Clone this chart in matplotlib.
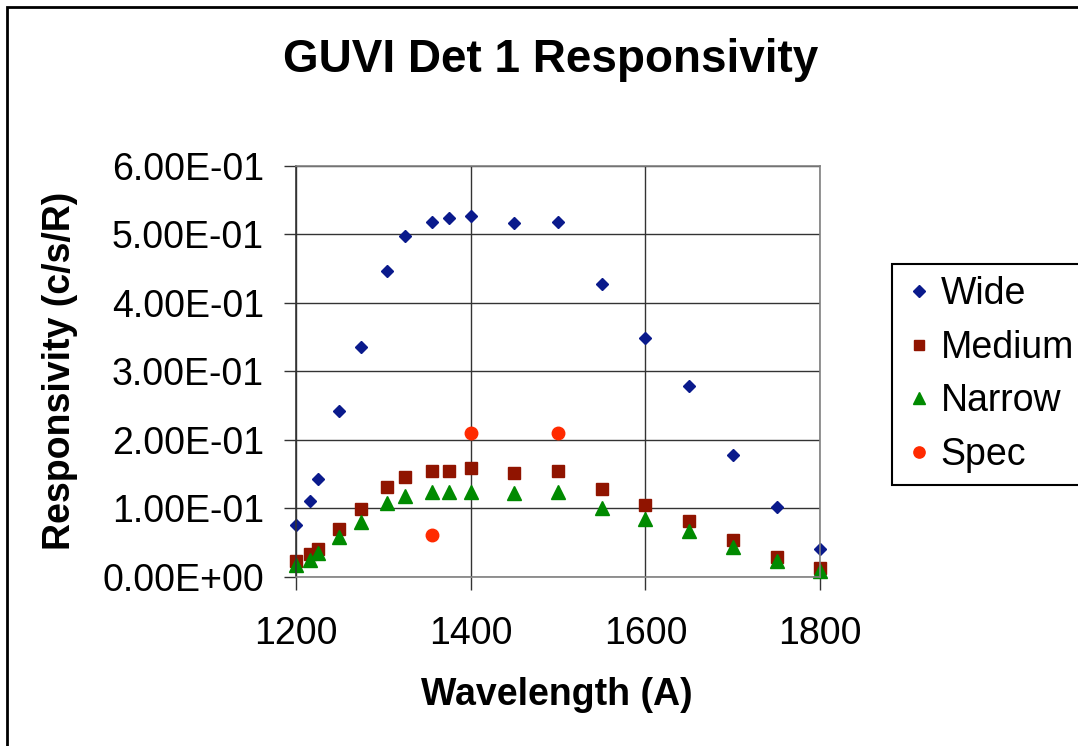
import matplotlib
matplotlib.use("Agg")
import matplotlib.pyplot as plt
from matplotlib.patches import Rectangle
from matplotlib.ticker import FuncFormatter

plt.rcParams['font.family'] = ['Liberation Sans', 'DejaVu Sans']

# wavelengths (A)
wl = [1200, 1216, 1225, 1250, 1275, 1304, 1325, 1356, 1375, 1400, 1450, 1500,
      1550, 1600, 1650, 1700, 1750, 1800]

wide = [0.076, 0.111, 0.143, 0.242, 0.335, 0.446, 0.498, 0.518, 0.524, 0.527,
        0.516, 0.518, 0.428, 0.349, 0.279, 0.178, 0.102, 0.041]
medium = [0.023, 0.033, 0.041, 0.070, 0.099, 0.131, 0.146, 0.155, 0.155, 0.158,
          0.152, 0.155, 0.128, 0.105, 0.082, 0.053, 0.029, 0.012]
narrow = [0.017, 0.025, 0.034, 0.058, 0.080, 0.107, 0.118, 0.124, 0.124, 0.124,
          0.122, 0.124, 0.101, 0.084, 0.066, 0.043, 0.023, 0.009]

spec_wl = [1356, 1400, 1500]
spec = [0.061, 0.210, 0.210]

fig = plt.figure(figsize=(10.78, 7.46), dpi=100)
ax = fig.add_axes([295.7/1078, 1 - 576.7/746, (820.3 - 295.7)/1078, (576.7 - 165.7)/746])

ax.plot(wl, wide, ls='none', marker='D', ms=6.3, color='#0a1a8c', label='Wide', clip_on=False)
ax.plot(wl, medium, ls='none', marker='s', ms=8.6, color='#901400', label='Medium', clip_on=False)
ax.plot(wl, narrow, ls='none', marker='^', ms=9.5, color='#008a00', label='Narrow', clip_on=False)
ax.plot(spec_wl, spec, ls='none', marker='o', ms=9, color='#ff2a00', label='Spec', clip_on=False)

ax.set_xlim(1200, 1800)
ax.set_ylim(0, 0.6)
ax.set_xticks([1200, 1400, 1600, 1800])
ax.set_yticks([0, 0.1, 0.2, 0.3, 0.4, 0.5, 0.6])
ax.yaxis.set_major_formatter(FuncFormatter(lambda v, p: '{:.2E}'.format(v)))
ax.grid(True, color='#333333', lw=1.0)
ax.set_axisbelow(True)
for s in ax.spines.values():
    s.set_color('#808080')
    s.set_linewidth(1.2)
ax.spines['left'].set_color('#333333')
ax.tick_params(axis='both', labelsize=27, length=9, width=1, color='#333333', pad=14)
ax.tick_params(axis='x', pad=19)

fig.text(551/1078, 1 - 60/746, 'GUVI Det 1 Responsivity', fontsize=33,
         fontweight='bold', ha='center', va='center')
fig.text(557/1078, 1 - 695/746, 'Wavelength (A)', fontsize=27,
         fontweight='bold', ha='center', va='center')
fig.text(60/1078, 1 - 371/746, 'Responsivity (c/s/R)', fontsize=27,
         fontweight='bold', ha='center', va='center', rotation=90)

leg = fig.legend(loc='upper left', bbox_to_anchor=(892/1078, 1 - 264/746),
                 fontsize=27, numpoints=1, fancybox=False, framealpha=1,
                 edgecolor='black', handlelength=0.8, handletextpad=0.18,
                 labelspacing=0.47, borderpad=0.32, borderaxespad=0, markerscale=0.9)
leg.get_frame().set_linewidth(1.5)

fig.patches.append(Rectangle((7/1078, -0.1), 1.2, 1.1 - 7/746, fill=False,
                             lw=2, edgecolor='black', transform=fig.transFigure))

fig.savefig('out.png', dpi=100)
